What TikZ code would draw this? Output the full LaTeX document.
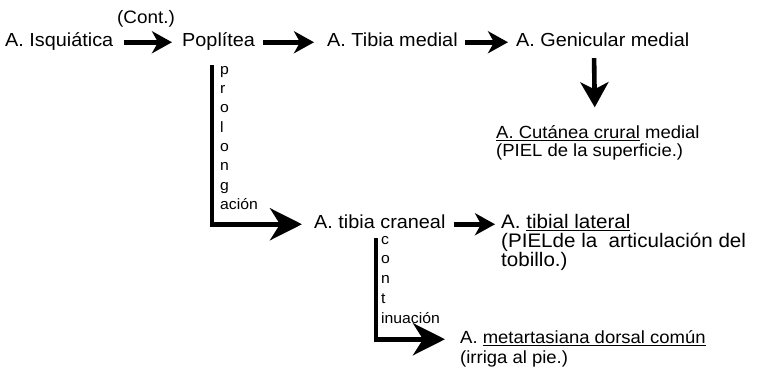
\documentclass[tikz,border=0pt]{standalone}
\usepackage{fontspec}
\setmainfont{Liberation Sans}[FakeStretch=1.05]
\usetikzlibrary{arrows.meta}
\begin{document}
\begin{tikzpicture}[x=1pt,y=-1pt,
  lbl/.style={inner sep=0pt, anchor=base west, font=\fontsize{18.9}{20}\selectfont, text height=13.5pt, text depth=4pt},
  mid/.style={lbl, font=\fontsize{17.6}{19}\selectfont},
  tl/.style={lbl, font=\fontsize{19.6}{20}\selectfont},
  small/.style={inner sep=0pt, anchor=north west, align=left},
  arr/.style={line width=4.6pt, -{Stealth[length=20pt,width=22pt,inset=6pt]}},
  bigarr/.style={line width=4.8pt, -{Stealth[length=32pt,width=32pt,inset=10pt]}},
]
\useasboundingbox (0,0) rectangle (758,379);
% row 1
\node[lbl] (isq) at (5,47) {A. Isquiática};
\node[lbl, font=\fontsize{18}{19}\selectfont] (cont) at (117,24) {(Cont.)};
\node[lbl] (pop) at (182,47) {Poplítea};
\node[lbl] (tmed) at (327,47) {A. Tibia medial};
\node[lbl] (gen) at (516,47) {A. Genicular medial};
% cutanea
\node[mid] (cut) at (496,139) {\underline{A. Cutánea crural} medial};
\node[mid] (cutb) at (496,157) {(PIEL de la superficie.)};
% row 2
\node[lbl] (tcr) at (314,229) {A. tibia craneal};
\node[tl] (tlat) at (501,229) {A. \underline{tibial lateral}};
\node[tl] (tlatb) at (501,248) {(PIELde la~ articulación del};
\node[tl] (tlatc) at (501,267) {tobillo.)};
% row 3
\node[mid] (meta) at (460,344) {A. \underline{metartasiana dorsal común}};
\node[mid] (metab) at (460,363) {(irriga al pie.)};
% vertical labels
\node[small, font=\fontsize{15}{19.3}\selectfont] (prol) at (220,66) {p\\r\\o\\l\\o\\n\\g\\ación};
\node[small, font=\fontsize{15}{19.7}\selectfont] (contin) at (381,236) {c\\o\\n\\t\\inuación};
% arrows
\draw[arr, shorten <=10pt, shorten >=10pt] (isq.east) -- (pop.west);
\draw[arr, shorten <=8pt, shorten >=13pt] (pop.east) -- (tmed.west);
\draw[arr, shorten <=7pt, shorten >=8pt] (tmed.east) -- (gen.west);
\draw[arr, shorten <=8pt, shorten >=6pt] (tcr.east) -- (tlat.west);
\draw[arr, -{Stealth[length=25pt,width=28pt,inset=7pt]}, shorten <=7pt, shorten >=18pt]
  ([xshift=78pt]gen.south west) -- ([xshift=99pt]cut.north west);
\draw[bigarr, shorten >=12pt] ([xshift=30pt,yshift=-14pt]pop.south west) |- (tcr.west);
\draw[bigarr, shorten >=15pt] ([xshift=62pt,yshift=-5pt]tcr.south west) |- (meta.west);
\end{tikzpicture}
\end{document}
